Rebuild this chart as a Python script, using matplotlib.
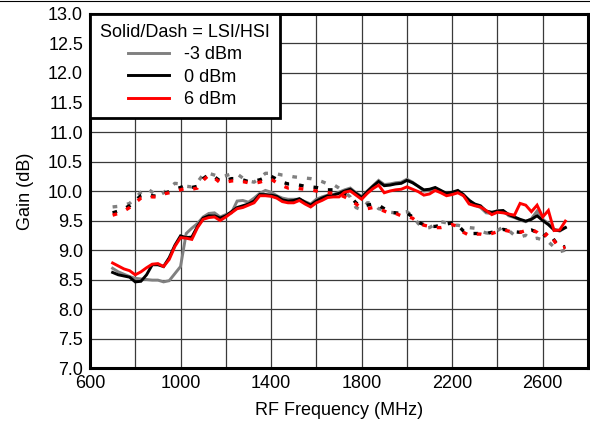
import numpy as np
import matplotlib
matplotlib.use('Agg')
import matplotlib.pyplot as plt
from matplotlib.lines import Line2D

plt.rcParams['font.family'] = ['Liberation Sans', 'DejaVu Sans']

freq = np.arange(700, 2701, 25)

# LSI (solid)
lsi_m3 = [8.69, 8.63, 8.59, 8.55, 8.52, 8.51, 8.50, 8.49, 8.49, 8.46, 8.48, 8.60, 8.72, 9.28, 9.37, 9.45,
          9.56, 9.62, 9.63, 9.56, 9.60, 9.63, 9.83, 9.84, 9.81, 9.88, 9.96, 10.01, 9.98, 9.92, 9.88, 9.86,
          9.86, 9.86, 9.82, 9.78, 9.86, 9.90, 9.93, 9.94, 9.98, 10.02, 10.05, 9.97, 9.91, 10.00, 10.09, 10.18,
          10.11, 10.12, 10.14, 10.15, 10.20, 10.15, 10.08, 10.00, 10.01, 10.04, 10.00, 9.95, 9.97, 10.00, 9.92,
          9.85, 9.76, 9.72, 9.63, 9.62, 9.67, 9.66, 9.58, 9.55, 9.51, 9.48, 9.53, 9.66, 9.52, 9.45, 9.35, 9.32, 9.38]
lsi_0 = [8.62, 8.58, 8.56, 8.54, 8.46, 8.47, 8.58, 8.75, 8.75, 8.72, 8.87, 9.08, 9.24, 9.21, 9.22, 9.40,
         9.54, 9.58, 9.58, 9.54, 9.58, 9.65, 9.72, 9.75, 9.78, 9.83, 9.94, 9.94, 9.93, 9.91, 9.85, 9.83,
         9.84, 9.87, 9.81, 9.76, 9.83, 9.88, 9.92, 9.93, 9.96, 10.00, 10.03, 9.96, 9.89, 9.99, 10.08, 10.16,
         10.09, 10.10, 10.12, 10.13, 10.18, 10.14, 10.08, 10.02, 10.03, 10.06, 10.01, 9.96, 9.98, 10.01, 9.94,
         9.84, 9.78, 9.75, 9.66, 9.64, 9.66, 9.67, 9.60, 9.56, 9.52, 9.49, 9.52, 9.58, 9.50, 9.43, 9.34, 9.33, 9.38]
lsi_6 = [8.78, 8.73, 8.68, 8.65, 8.58, 8.63, 8.70, 8.76, 8.77, 8.72, 8.84, 9.06, 9.21, 9.20, 9.18, 9.38,
         9.52, 9.55, 9.56, 9.50, 9.56, 9.63, 9.70, 9.72, 9.76, 9.80, 9.92, 9.92, 9.91, 9.88, 9.82, 9.80,
         9.80, 9.84, 9.78, 9.73, 9.80, 9.84, 9.89, 9.90, 9.90, 9.98, 10.00, 9.93, 9.86, 9.96, 10.04, 10.10,
         9.97, 10.00, 10.02, 10.03, 10.07, 10.03, 9.99, 9.93, 9.95, 10.01, 9.97, 9.92, 9.94, 9.97, 9.92,
         9.78, 9.75, 9.73, 9.67, 9.60, 9.64, 9.63, 9.61, 9.59, 9.79, 9.76, 9.65, 9.76, 9.56, 9.67, 9.33, 9.34, 9.49]

# HSI (dash)
hsi_m3 = [9.73, 9.74, 9.76, 9.79, 9.88, 9.98, 10.05, 9.98, 9.92, 9.97, 10.05, 10.13, 10.12, 10.08, 10.07, 10.15,
          10.28, 10.30, 10.27, 10.24, 10.26, 10.29, 10.29, 10.22, 10.17, 10.15, 10.22, 10.30, 10.30, 10.29, 10.27, 10.26,
          10.24, 10.23, 10.22, 10.21, 10.19, 10.16, 10.12, 10.11, 10.05, 9.98, 9.90, 9.72, 9.68, 9.80, 9.80, 9.70,
          9.68, 9.64, 9.63, 9.64, 9.65, 9.58, 9.45, 9.37, 9.38, 9.44, 9.48, 9.46, 9.42, 9.42, 9.40,
          9.38, 9.37, 9.32, 9.29, 9.28, 9.33, 9.39, 9.33, 9.25, 9.22, 9.25, 9.18, 9.20, 9.17, 9.14, 9.05, 8.97, 9.00]
hsi_0 = [9.63, 9.66, 9.70, 9.75, 9.84, 9.92, 9.95, 9.92, 9.91, 9.96, 9.99, 10.03, 10.06, 10.10, 10.06, 10.08,
         10.21, 10.28, 10.24, 10.17, 10.18, 10.21, 10.21, 10.19, 10.16, 10.17, 10.19, 10.23, 10.25, 10.20, 10.15, 10.12,
         10.12, 10.10, 10.08, 10.07, 10.06, 10.04, 10.02, 10.02, 9.99, 9.95, 9.91, 9.80, 9.74, 9.76, 9.78, 9.76,
         9.70, 9.64, 9.63, 9.62, 9.63, 9.56, 9.47, 9.43, 9.40, 9.40, 9.42, 9.44, 9.46, 9.42, 9.32,
         9.28, 9.28, 9.28, 9.28, 9.30, 9.32, 9.35, 9.33, 9.31, 9.30, 9.32, 9.34, 9.30, 9.22, 9.30, 9.17, 9.04, 9.06]
hsi_6 = [9.59, 9.62, 9.66, 9.72, 9.80, 9.88, 9.92, 9.90, 9.90, 9.95, 9.97, 10.00, 10.02, 10.05, 10.03, 10.05,
         10.18, 10.27, 10.22, 10.14, 10.15, 10.17, 10.18, 10.16, 10.14, 10.13, 10.15, 10.18, 10.20, 10.14, 10.09, 10.05,
         10.06, 10.04, 10.03, 10.02, 10.00, 9.98, 9.97, 9.96, 9.94, 9.90, 9.85, 9.78, 9.72, 9.70, 9.72, 9.70,
         9.66, 9.62, 9.62, 9.58, 9.57, 9.54, 9.46, 9.42, 9.40, 9.38, 9.38, 9.40, 9.43, 9.40, 9.30,
         9.25, 9.27, 9.27, 9.25, 9.28, 9.31, 9.34, 9.32, 9.29, 9.30, 9.33, 9.35, 9.30, 9.20, 9.30, 9.16, 9.02, 9.05]

labels = ['-3 dBm', '0 dBm', '6 dBm']
colors = ['#808080', 'black', 'red']

fig = plt.figure(figsize=[5.9, 4.24], dpi=100)
ax = fig.add_axes([0.1525, 0.132, 0.8441, 0.835])

for lsi, hsi, c, lab in zip([lsi_m3, lsi_0, lsi_6], [hsi_m3, hsi_0, hsi_6], colors, labels):
    ax.plot(freq, lsi, color=c, lw=2.1, label=lab, solid_joinstyle='miter')
    ax.plot(freq, hsi, color=c, lw=2.4, linestyle=(0, (1.4, 3.0)))

ax.set_xlim(600, 2800)
ax.set_ylim(7, 13)
ax.set_xticks(np.arange(600, 2801, 200), minor=True)
ax.set_xticks([600, 1000, 1400, 1800, 2200, 2600])
ax.set_yticks(np.arange(7, 13.01, 0.5))
ax.set_yticklabels(['%.1f' % v for v in np.arange(7, 13.01, 0.5)])
ax.grid(True, which='both', color='#3a3a3a', lw=0.9)
ax.set_axisbelow(True)
ax.tick_params(which='both', length=0, labelsize=13, pad=5)
for s in ax.spines.values():
    s.set_linewidth(2.2)
ax.set_xlabel('RF Frequency (MHz)', fontsize=13, labelpad=7)
ax.set_ylabel('Gain (dB)', fontsize=13, labelpad=10)

leg = ax.legend(loc='upper left', bbox_to_anchor=(0, 1), borderaxespad=0, title='Solid/Dash = LSI/HSI',
                fontsize=13, title_fontsize=13, fancybox=False, framealpha=1, edgecolor='black',
                handlelength=2.3, labelspacing=0.3, borderpad=0.55, handletextpad=0.8)
leg.get_frame().set_linewidth(2)
leg._legend_box.align = 'center'

fig.add_artist(Line2D([0, 1], [0.997, 0.997], transform=fig.transFigure, color='black', lw=0.8))

fig.savefig('out.png', dpi=100)
